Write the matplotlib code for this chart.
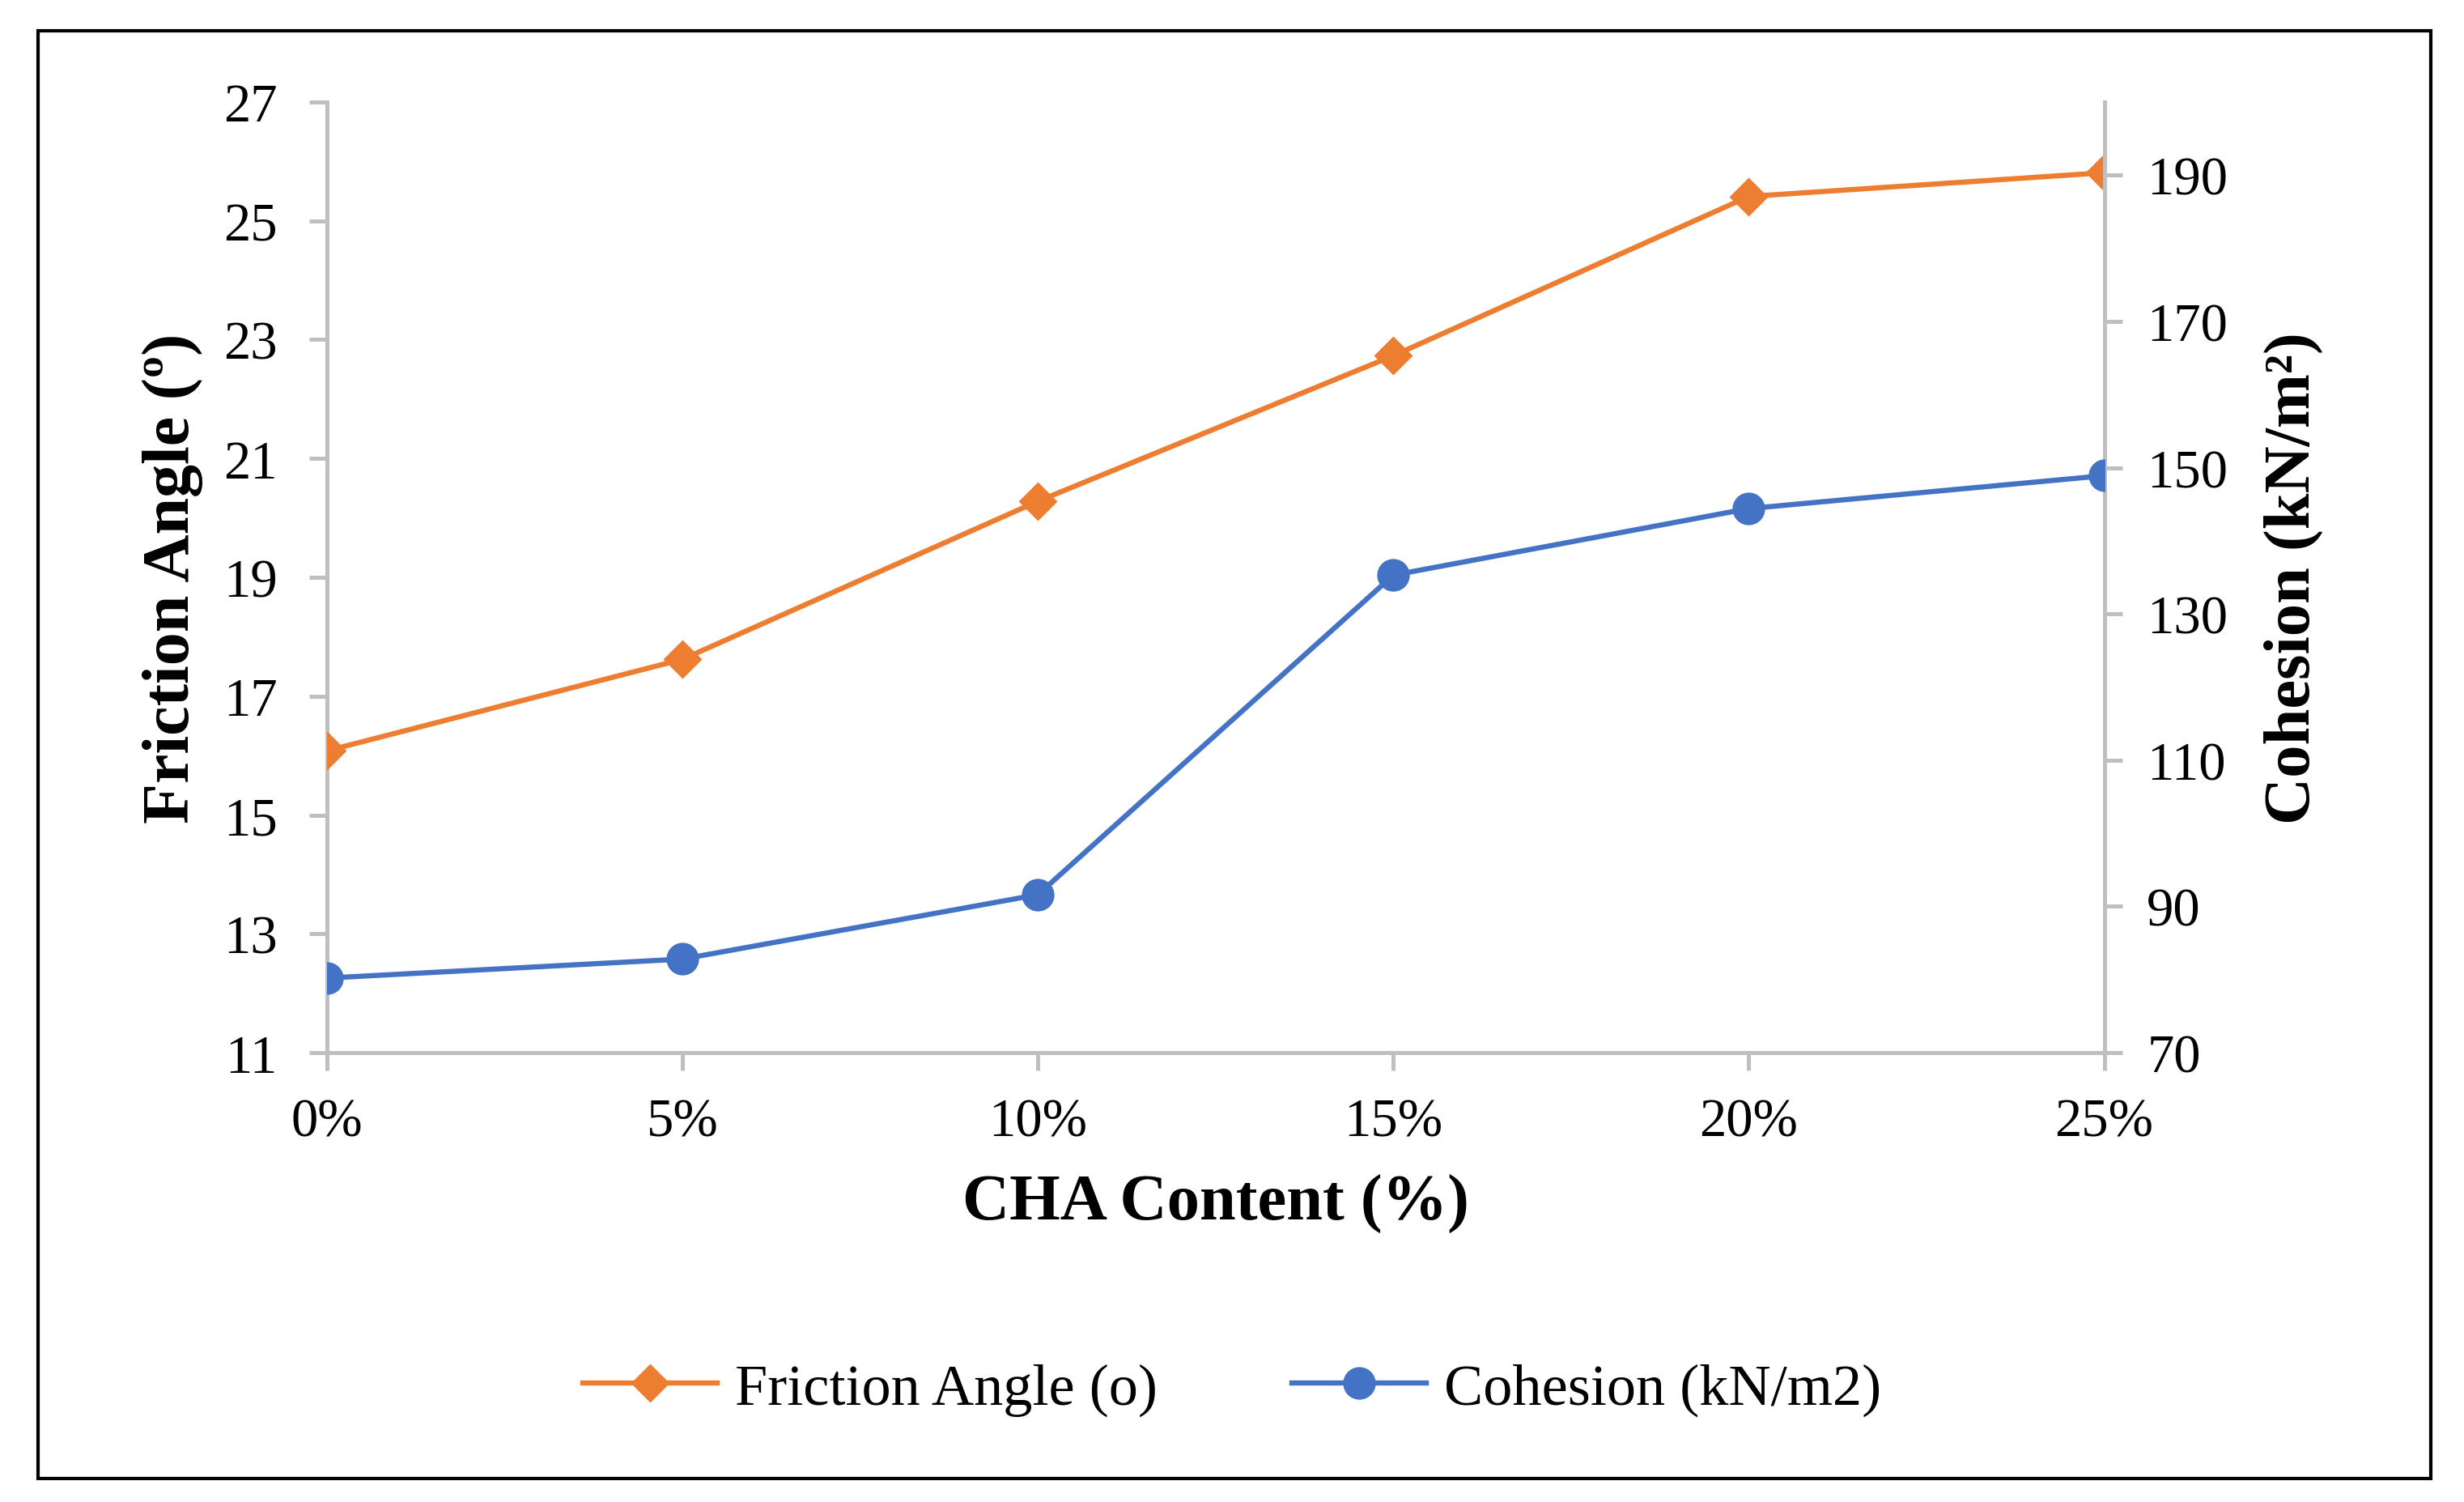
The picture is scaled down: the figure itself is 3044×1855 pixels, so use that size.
import numpy as np
import matplotlib
matplotlib.use('Agg')
import matplotlib.pyplot as plt
from matplotlib.patches import Rectangle

# data
cha_labels = ['0%', '5%', '10%', '15%', '20%', '25%']
friction = [16.08, 17.62, 20.28, 22.73, 25.41, 25.81]
cohesion = [80.2, 82.8, 91.6, 135.3, 144.4, 148.9]

orange = '#ED7D31'
blue = '#4472C4'
grey = '#BFBFBF'

plt.rcParams['font.family'] = ['Liberation Serif', 'DejaVu Serif']


def main():
    fig = plt.figure(figsize=(15.22, 9.28), dpi=200)
    ax = fig.add_axes([0.1327, 0.299, 0.7213, 0.6326])
    ax2 = ax.twinx()

    x = np.arange(len(cha_labels))
    l1, = ax.plot(x, friction, '-D', color=orange, lw=2.3, ms=11,
                  label='Friction Angle (o)', zorder=3)
    l2, = ax2.plot(x, cohesion, '-o', color=blue, lw=2.3, ms=13.5,
                   label='Cohesion (kN/m2)', zorder=3)

    ax.set_xlim(0, len(cha_labels) - 1)
    ax.set_ylim(11, 27)
    ax.set_yticks(np.arange(11, 28, 2))
    ax2.set_ylim(70, 200)
    ax2.set_yticks(np.arange(70, 200, 20))
    ax.set_xticks(x)
    ax.set_xticklabels(cha_labels)

    for a in (ax, ax2):
        for s in a.spines.values():
            s.set_visible(False)
        a.tick_params(colors=grey, labelcolor='black', labelsize=24,
                      length=8, width=1.8, direction='out')
    ax.spines['left'].set_visible(True)
    ax.spines['bottom'].set_visible(True)
    ax2.spines['right'].set_visible(True)
    for s in (ax.spines['left'], ax.spines['bottom'], ax2.spines['right']):
        s.set_color(grey)
        s.set_linewidth(1.8)
    ax.tick_params(axis='x', pad=12)
    ax.tick_params(axis='y', pad=14)
    ax2.tick_params(axis='y', pad=11)

    ax.set_xlabel('CHA Content (%)', fontsize=29, fontweight='bold', labelpad=12)
    ax.set_ylabel('Friction Angle (º)', fontsize=29.5, fontweight='bold', labelpad=9)
    ax2.set_ylabel('Cohesion (kN/m²)', fontsize=29, fontweight='bold', labelpad=16)

    fig.legend(handles=[l1, l2], loc='center', bbox_to_anchor=(0.5, 0.075),
               ncol=2, frameon=False, fontsize=26, handlelength=2.3,
               handletextpad=0.3, columnspacing=2.3)

    fig.patches.append(Rectangle((0.0154, 0.0156), 0.9711, 0.9634,
                                 transform=fig.transFigure, fill=False,
                                 edgecolor='black', lw=1.5))

    fig.savefig('out.png', dpi=200)


if __name__ == '__main__':
    main()
